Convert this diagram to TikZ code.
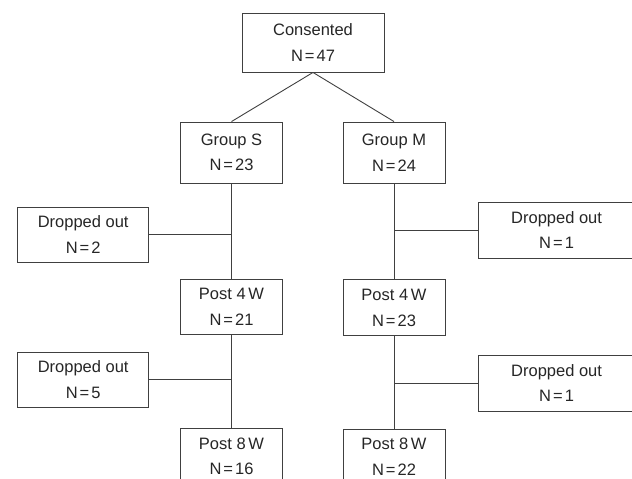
\documentclass[tikz,border=0pt]{standalone}
\usepackage{fontspec}
\setmainfont{Liberation Sans}
\newcommand{\eqn}[1]{N\kern2pt=\kern2pt#1}
\begin{document}
\begin{tikzpicture}[x=1pt,y=-1pt,
  box/.style={draw=black!75, line width=0.9pt, align=center, inner sep=0pt,
    font=\fontsize{16.5pt}{25.5pt}\selectfont, text=black!85},
  midbox/.style={box, minimum width=101.5pt, minimum height=55pt},
  sidebox/.style={box, minimum width=131pt, minimum height=55pt},
  rightbox/.style={box, minimum width=156pt, minimum height=56pt},
  link/.style={draw=black!75, line width=0.9pt}]
\useasboundingbox (0,0) rectangle (632,479);
\clip (0,0) rectangle (632,479);
% nodes
\node[box, minimum width=142pt, minimum height=59pt] (cons) at (313,42.5) {Consented\\\eqn{47}};
\node[box, minimum width=101.5pt, minimum height=61pt] (gS) at (231.5,152.5) {Group S\\\eqn{23}};
\node[box, minimum width=102pt, minimum height=61pt] (gM) at (394,152.5) {Group M\\\eqn{24}};
\node[sidebox] (dS1) at (83.2,234.6) {Dropped out\\\eqn{2}};
\node[rightbox] (dM1) at (556.6,230) {Dropped out\\\eqn{1}};
\node[midbox] (p4S) at (231.5,306.6) {Post 4\,W\\\eqn{21}};
\node[midbox, minimum width=102pt, minimum height=56pt] (p4M) at (394,307.8) {Post 4\,W\\\eqn{23}};
\node[sidebox] (dS2) at (83.2,379.6) {Dropped out\\\eqn{5}};
\node[rightbox] (dM2) at (556.6,383) {Dropped out\\\eqn{1}};
\node[midbox] (p8S) at (231.5,456.2) {Post 8\,W\\\eqn{16}};
\node[midbox, minimum width=102pt] (p8M) at (394,456.8) {Post 8\,W\\\eqn{22}};
% connectors
\draw[link] (cons.south) -- (gS.north);
\draw[link] (cons.south) -- (gM.north);
\draw[link] (gS.south) -- (p4S.north);
\draw[link] (gM.south) -- (p4M.north);
\draw[link] (p4S.south) -- (p8S.north);
\draw[link] (p4M.south) -- (p8M.north);
\coordinate (jS1) at (gS.south |- dS1.east);
\coordinate (jM1) at (gM.south |- dM1.west);
\coordinate (jS2) at (p4S.south |- dS2.east);
\coordinate (jM2) at (p4M.south |- dM2.west);
\draw[link] (dS1.east) -- (jS1);
\draw[link] (dM1.west) -- (jM1);
\draw[link] (dS2.east) -- (jS2);
\draw[link] (dM2.west) -- (jM2);
\end{tikzpicture}
\end{document}
